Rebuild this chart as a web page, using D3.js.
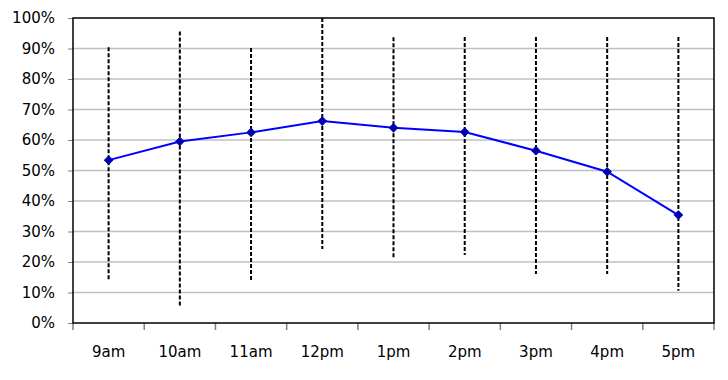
<!DOCTYPE html>
<meta charset="utf-8">
<script src="https://d3js.org/d3.v7.min.js"></script>
<style>
  body { margin: 0; background: #fff; }
  text { font-family: "DejaVu Sans", Verdana, sans-serif; font-size: 15px; fill: #000; }
</style>
<div id="chart"></div>
<script>
    // data
    var hours = ["9am", "10am", "11am", "12pm", "1pm", "2pm", "3pm", "4pm", "5pm"];
    var average = [53.4, 59.5, 62.5, 66.2, 64.0, 62.6, 56.5, 49.6, 35.4];
    var high = [90.4, 95.6, 90.2, 100, 93.7, 93.8, 93.8, 93.8, 93.8];
    var low = [14.1, 5.6, 13.9, 24.3, 20.9, 22.3, 16.1, 16.1, 10.6];
    var yTicks = [0, 10, 20, 30, 40, 50, 60, 70, 80, 90, 100];

    var margin = { top: 18, right: 14, bottom: 57, left: 73 },
        width = 728 - margin.left - margin.right,
        height = 380 - margin.top - margin.bottom;

    var svg = d3.select("#chart")
        .append("svg")
        .attr("width", 728)
        .attr("height", 380)
        .append("g")
        .attr("transform", "translate(" + margin.left + "," + margin.top + ")");

    var x = d3.scaleBand().domain(hours).range([0, width]);
    var y = d3.scaleLinear().domain([0, 100]).range([height, 0]);

    // horizontal gridlines
    svg.selectAll(".grid")
        .data(yTicks.slice(1, -1))
        .enter()
        .append("line")
        .attr("x1", 0)
        .attr("x2", width)
        .attr("y1", function (d) { return y(d) })
        .attr("y2", function (d) { return y(d) })
        .attr("stroke", "#c0c0c0")
        .attr("stroke-width", 1.5);

    // y axis
    var yAxis = svg.append("g")
        .call(d3.axisLeft(y).tickValues(yTicks).tickSize(5).tickPadding(13)
            .tickFormat(function (d) { return d + "%" }));
    yAxis.select(".domain").remove();
    yAxis.selectAll(".tick line").attr("stroke", "#808080");
    yAxis.selectAll("text").attr("font-family", null).attr("font-size", null);

    // x axis ticks at category boundaries
    var xAxis = svg.append("g")
        .attr("transform", "translate(0," + height + ")")
        .call(d3.axisBottom(x).tickSize(0).tickPadding(23));
    xAxis.select(".domain").remove();
    xAxis.selectAll("text").attr("font-family", null).attr("font-size", null);
    svg.selectAll(".xb")
        .data(hours.concat(["end"]))
        .enter()
        .append("line")
        .attr("x1", function (d, i) { return i * x.step() })
        .attr("x2", function (d, i) { return i * x.step() })
        .attr("y1", height)
        .attr("y2", height + 7)
        .attr("stroke", "#808080")
        .attr("stroke-width", 1.5);

    // high-low dashed ranges
    svg.selectAll(".range")
        .data(hours)
        .enter()
        .append("line")
        .attr("x1", function (d) { return x(d) + x.bandwidth() / 2 })
        .attr("x2", function (d) { return x(d) + x.bandwidth() / 2 })
        .attr("y1", function (d, i) { return y(high[i]) })
        .attr("y2", function (d, i) { return y(low[i]) })
        .attr("stroke", "#000")
        .attr("stroke-width", 2)
        .attr("stroke-dasharray", "4,2");

    // plot frame
    svg.append("rect")
        .attr("width", width)
        .attr("height", height)
        .attr("fill", "none")
        .attr("stroke", "#000")
        .attr("stroke-width", 1.5);

    // average line
    svg.append("path")
        .datum(average)
        .attr("fill", "none")
        .attr("stroke", "#0000ff")
        .attr("stroke-width", 2)
        .attr("d", d3.line()
            .x(function (d, i) { return x(hours[i]) + x.bandwidth() / 2 })
            .y(function (d) { return y(d) }));

    svg.selectAll(".marker")
        .data(average)
        .enter()
        .append("path")
        .attr("d", d3.symbol().type(d3.symbolSquare).size(34))
        .attr("transform", function (d, i) {
            return "translate(" + (x(hours[i]) + x.bandwidth() / 2) + "," + y(d) + ") rotate(45)";
        })
        .attr("fill", "#0000b0")
        .attr("stroke", "#0000b0")
        .attr("stroke-width", 1);
</script>
